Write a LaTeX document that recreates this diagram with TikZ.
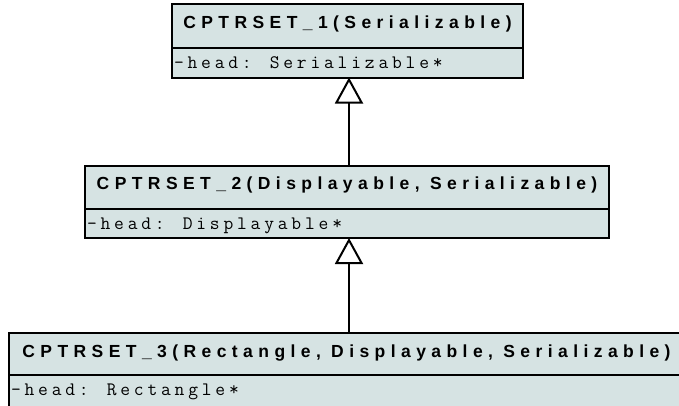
\documentclass[tikz,border=0pt]{standalone}
\usepackage{fontspec}
\usetikzlibrary{arrows.meta}
\newfontfamily\titlef{Liberation Sans}[LetterSpace=31]
\newfontfamily\attrf{Latin Modern Mono}[LetterSpace=20]
\definecolor{boxfill}{RGB}{214,227,227}
\tikzset{
  part/.style={draw=black, line width=2pt, fill=boxfill, rectangle, inner sep=0pt, outer sep=0pt, anchor=north west},
  titletext/.style={font=\titlef\bfseries\fontsize{17.5}{20}\selectfont, inner sep=0pt, outer sep=0pt, anchor=base},
  attrtext/.style={font=\attrf\fontsize{19}{20}\selectfont, inner sep=0pt, outer sep=0pt, anchor=base west},
  inherit/.style={draw=black, line width=2pt, -{Triangle[open, fill=white, width=28pt, length=26pt]}}
}
\begin{document}
\begin{tikzpicture}[x=1pt, y=-1pt]
  \useasboundingbox (0,0) rectangle (679,405);
  \clip (0,0) rectangle (679,405);
  \fill[white] (0,0) rectangle (679,405);
  % class 1
  \node[part, minimum width=351pt, minimum height=44pt] (b1t) at (172,4) {};
  \node[part, minimum width=351pt, minimum height=29.5pt] (b1b) at (172,48) {};
  \node[titletext] (t1) at (347.5,28) {CPTRSET\_1(Serializable)};
  \node[attrtext] (a1) at (174,68) {-head: Serializable*};
  % class 2
  \node[part, minimum width=524pt, minimum height=43.5pt] (b2t) at (85,165.5) {};
  \node[part, minimum width=524pt, minimum height=29pt] (b2b) at (85,209) {};
  \node[titletext] (t2) at (347,189.5) {CPTRSET\_2(Displayable, Serializable)};
  \node[attrtext] (a2) at (87,229) {-head: Displayable*};
  % class 3
  \node[part, minimum width=675pt, minimum height=42pt] (b3t) at (9,333) {};
  \node[part, minimum width=675pt, minimum height=40pt] (b3b) at (9,375) {};
  \node[titletext] (t3) at (346.5,357) {CPTRSET\_3(Rectangle, Displayable, Serializable)};
  \node[attrtext] (a3) at (11,395) {-head: Rectangle*};
  % generalisations
  \draw[inherit] ([xshift=2pt]b2t.north) -- ([xshift=1.5pt]b1b.south);
  \draw[inherit] ([xshift=2.5pt]b3t.north) -- ([xshift=2pt]b2b.south);
\end{tikzpicture}
\end{document}
